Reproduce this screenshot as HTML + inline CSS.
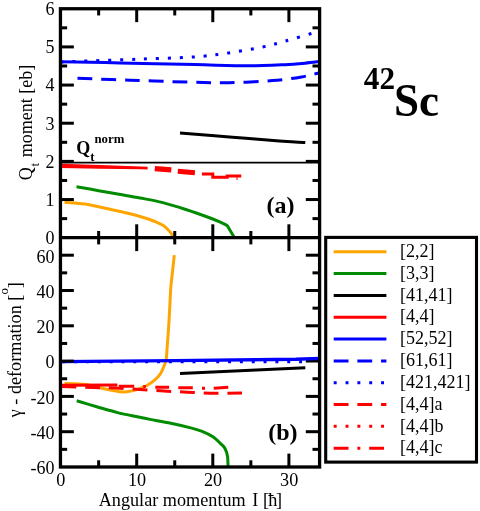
<!DOCTYPE html>
<html><head><meta charset="utf-8"><title>42Sc</title>
<style>
html,body{margin:0;padding:0;background:#fff;}
body{width:480px;height:511px;overflow:hidden;font-family:"Liberation Serif",serif;}
svg{display:block;will-change:transform;opacity:0.999;}
</style></head>
<body>
<svg width="480" height="511" viewBox="0 0 480 511">
<defs>
<clipPath id="ca"><rect x="60.45" y="8.75" width="259.15" height="228.95"/></clipPath>
<clipPath id="cb"><rect x="60.45" y="237.70" width="259.15" height="229.30"/></clipPath>
</defs>
<rect x="0" y="0" width="480" height="511" fill="#fff"/>
<g clip-path="url(#ca)">
<path d="M64.50,202.40 C66.25,202.50 71.58,202.73 75.00,203.00 C78.42,203.27 81.25,203.42 85.00,204.00 C88.75,204.58 93.33,205.62 97.50,206.50 C101.67,207.38 105.83,208.33 110.00,209.25 C114.17,210.17 118.33,211.04 122.50,212.00 C126.67,212.96 130.83,213.88 135.00,215.00 C139.17,216.12 144.17,217.67 147.50,218.75 C150.83,219.83 152.37,220.38 155.00,221.50 C157.63,222.62 161.08,224.08 163.30,225.50 C165.52,226.92 166.92,228.55 168.30,230.00 C169.68,231.45 170.65,232.78 171.60,234.20 C172.55,235.62 173.60,237.78 174.00,238.50" fill="none" stroke="#ffa500" stroke-width="3.0" stroke-linecap="butt" stroke-linejoin="round"/>
<path d="M76.50,186.70 C80.42,187.40 93.17,189.67 100.00,190.90 C106.83,192.13 110.83,192.92 117.50,194.10 C124.17,195.28 132.43,196.58 140.00,198.00 C147.57,199.42 155.25,200.68 162.90,202.60 C170.55,204.52 178.25,207.02 185.90,209.50 C193.55,211.98 203.07,215.40 208.80,217.50 C214.53,219.60 217.23,220.75 220.30,222.10 C223.37,223.45 226.05,225.02 227.20,225.60 L235.2,239" fill="none" stroke="#008b00" stroke-width="3.0" stroke-linecap="butt" stroke-linejoin="round"/>
<path d="M180.00,133.10 C188.75,133.78 215.93,135.90 232.50,137.20 C249.07,138.50 268.98,140.08 279.40,140.90 C289.82,141.72 290.68,141.83 295.00,142.10 C299.32,142.37 303.58,142.43 305.30,142.50" fill="none" stroke="#000" stroke-width="3.0" stroke-linecap="butt" stroke-linejoin="round"/>
<line x1="60.5" y1="162.6" x2="319.6" y2="162.6" stroke="#000" stroke-width="1.8"/>
<path d="M60.60,61.70 C70.50,61.90 97.60,62.42 120.00,62.90 C142.40,63.38 173.72,64.12 195.00,64.60 C216.28,65.08 232.70,65.78 247.70,65.80 C262.70,65.82 275.45,65.13 285.00,64.70 C294.55,64.27 299.17,63.73 305.00,63.20 C310.83,62.67 317.50,61.78 320.00,61.50" fill="none" stroke="#0000ff" stroke-width="3.0" stroke-linecap="butt" stroke-linejoin="round"/>
<path d="M77.50,78.30 C86.25,78.62 111.63,79.57 130.00,80.20 C148.37,80.83 171.25,81.68 187.70,82.10 C204.15,82.52 214.57,82.95 228.70,82.70 C242.83,82.45 260.35,81.57 272.50,80.60 C284.65,79.63 293.68,78.22 301.60,76.90 C309.52,75.58 316.93,73.40 320.00,72.70" fill="none" stroke="#0000ff" stroke-width="3.0" stroke-linecap="butt" stroke-linejoin="round" stroke-dasharray="14.85 8.9" stroke-dashoffset="0"/>
<path d="M60.60,62.00 C65.00,61.83 73.77,61.48 87.00,61.00 C100.23,60.52 122.30,59.77 140.00,59.10 C157.70,58.43 178.42,58.03 193.20,57.00 C207.98,55.97 216.95,54.60 228.70,52.90 C240.45,51.20 254.22,48.78 263.70,46.80 C273.18,44.82 277.82,43.17 285.60,41.00 C293.38,38.83 304.67,35.52 310.40,33.80 C316.13,32.08 318.40,31.22 320.00,30.70" fill="none" stroke="#0000ff" stroke-width="3.0" stroke-linecap="butt" stroke-linejoin="round" stroke-dasharray="3 8.925" stroke-dashoffset="0"/>
<polygon points="60.6,163.7 100,165.0 141,166.5 147.6,166.8 147.6,169.6 141,169.3 100,168.7 60.6,167.9" fill="#ff0000"/>
<path d="M154.80,168.60 L171.30,169.90" fill="none" stroke="#ff0000" stroke-width="5.4" stroke-linecap="butt" stroke-linejoin="round"/>
<path d="M177.80,171.30 L194.90,172.70" fill="none" stroke="#ff0000" stroke-width="5.0" stroke-linecap="butt" stroke-linejoin="round"/>
<path d="M201.90,173.90 L212.80,173.90 L212.80,177.20 L227.20,177.20 L227.20,176.10 L241.30,176.10" fill="none" stroke="#ff0000" stroke-width="3.0" stroke-linecap="butt" stroke-linejoin="miter"/>
<path d="M237.00,176.00 L237.00,180.00" fill="none" stroke="#ff0000" stroke-width="1.0" stroke-linecap="butt" stroke-linejoin="round"/>
</g>
<g clip-path="url(#cb)">
<path d="M64.50,383.40 C66.25,383.47 71.42,383.62 75.00,383.80 C78.58,383.98 81.72,383.80 86.00,384.50 C90.28,385.20 96.37,387.03 100.70,388.00 C105.03,388.97 109.03,389.73 112.00,390.30 C114.97,390.87 116.63,391.10 118.50,391.40 C120.37,391.70 121.62,392.08 123.20,392.10 C124.78,392.12 126.17,391.78 128.00,391.50 C129.83,391.22 132.03,390.98 134.20,390.40 C136.37,389.82 138.82,388.85 141.00,388.00 C143.18,387.15 145.03,386.60 147.30,385.30 C149.57,384.00 152.42,382.12 154.60,380.20 C156.78,378.28 158.97,375.83 160.40,373.80 C161.83,371.77 162.27,370.25 163.20,368.00 C164.13,365.75 165.38,363.13 166.00,360.30 C166.62,357.47 166.52,355.68 166.90,351.00 C167.28,346.32 167.83,339.25 168.30,332.20 C168.77,325.15 169.28,316.18 169.70,308.70 C170.12,301.22 170.37,293.17 170.80,287.30 C171.23,281.43 171.72,278.85 172.30,273.50 C172.88,268.15 173.97,258.25 174.30,255.20" fill="none" stroke="#ffa500" stroke-width="3.0" stroke-linecap="butt" stroke-linejoin="round"/>
<path d="M76.70,400.80 C80.03,401.78 89.90,404.73 96.70,406.70 C103.50,408.67 110.57,410.88 117.50,412.60 C124.43,414.32 132.88,415.87 138.30,417.00 C143.72,418.13 144.58,418.35 150.00,419.40 C155.42,420.45 163.85,421.85 170.80,423.30 C177.75,424.75 186.48,426.77 191.70,428.10 C196.92,429.43 198.63,429.90 202.10,431.30 C205.57,432.70 209.38,434.42 212.50,436.50 C215.62,438.58 218.72,441.80 220.80,443.80 C222.88,445.80 223.88,446.42 225.00,448.50 C226.12,450.58 226.98,453.05 227.50,456.30 C228.02,459.55 228.00,466.05 228.10,468.00" fill="none" stroke="#008b00" stroke-width="3.0" stroke-linecap="butt" stroke-linejoin="round"/>
<path d="M180.00,373.40 L305.30,367.80" fill="none" stroke="#000" stroke-width="3.0" stroke-linecap="butt" stroke-linejoin="round"/>
<path d="M62.30,361.80 L306.00,361.70" fill="none" stroke="#0000ff" stroke-width="3.0" stroke-linecap="butt" stroke-linejoin="round" stroke-dasharray="2.96 8.88" stroke-dashoffset="0"/>
<line x1="305.80" y1="361.10" x2="319.60" y2="361.10" stroke="#000" stroke-width="3"/>
<path d="M60.60,361.60 L175.00,360.65 L296.00,359.20 L320.00,358.35" fill="none" stroke="#0000ff" stroke-width="3.4" stroke-linecap="butt" stroke-linejoin="round"/>
<path d="M61.50,386.40 C66.75,386.58 83.92,387.23 93.00,387.50 C102.08,387.77 108.17,387.67 116.00,388.00 C123.83,388.33 132.00,389.00 140.00,389.50 C148.00,390.00 156.17,390.55 164.00,391.00 C171.83,391.45 179.33,391.83 187.00,392.20 C194.67,392.57 200.83,393.07 210.00,393.20 C219.17,393.33 236.67,393.03 242.00,393.00" fill="none" stroke="#ff0000" stroke-width="3.0" stroke-linecap="butt" stroke-linejoin="round" stroke-dasharray="14.8 8.93" stroke-dashoffset="0"/>
<path d="M60.60,385.30 L117.40,384.90" fill="none" stroke="#ff0000" stroke-width="3.0" stroke-linecap="butt" stroke-linejoin="round"/>
<path d="M118.80,386.20 L134.20,386.20" fill="none" stroke="#ff0000" stroke-width="3.0" stroke-linecap="butt" stroke-linejoin="round"/>
<path d="M143.20,386.60 L145.80,386.60" fill="none" stroke="#ff0000" stroke-width="3.0" stroke-linecap="butt" stroke-linejoin="round"/>
<path d="M155.30,387.20 L169.10,387.20" fill="none" stroke="#ff0000" stroke-width="3.0" stroke-linecap="butt" stroke-linejoin="round"/>
<path d="M178.30,387.80 L192.80,387.80" fill="none" stroke="#ff0000" stroke-width="3.0" stroke-linecap="butt" stroke-linejoin="round"/>
<path d="M202.00,388.20 L205.00,388.20" fill="none" stroke="#ff0000" stroke-width="3.0" stroke-linecap="butt" stroke-linejoin="round"/>
<path d="M213.70,388.30 L228.30,387.20" fill="none" stroke="#ff0000" stroke-width="3.0" stroke-linecap="butt" stroke-linejoin="round"/>
</g>
<line x1="98.65" y1="8.75" x2="98.65" y2="15.45" stroke="#000" stroke-width="3.0"/>
<line x1="98.65" y1="231.00" x2="98.65" y2="244.40" stroke="#000" stroke-width="3.0"/>
<line x1="98.65" y1="460.30" x2="98.65" y2="467.00" stroke="#000" stroke-width="3.0"/>
<line x1="136.70" y1="8.75" x2="136.70" y2="22.15" stroke="#000" stroke-width="3.0"/>
<line x1="136.70" y1="224.30" x2="136.70" y2="251.10" stroke="#000" stroke-width="3.0"/>
<line x1="136.70" y1="453.60" x2="136.70" y2="467.00" stroke="#000" stroke-width="3.0"/>
<line x1="174.75" y1="8.75" x2="174.75" y2="15.45" stroke="#000" stroke-width="3.0"/>
<line x1="174.75" y1="231.00" x2="174.75" y2="244.40" stroke="#000" stroke-width="3.0"/>
<line x1="174.75" y1="460.30" x2="174.75" y2="467.00" stroke="#000" stroke-width="3.0"/>
<line x1="212.80" y1="8.75" x2="212.80" y2="22.15" stroke="#000" stroke-width="3.0"/>
<line x1="212.80" y1="224.30" x2="212.80" y2="251.10" stroke="#000" stroke-width="3.0"/>
<line x1="212.80" y1="453.60" x2="212.80" y2="467.00" stroke="#000" stroke-width="3.0"/>
<line x1="250.85" y1="8.75" x2="250.85" y2="15.45" stroke="#000" stroke-width="3.0"/>
<line x1="250.85" y1="231.00" x2="250.85" y2="244.40" stroke="#000" stroke-width="3.0"/>
<line x1="250.85" y1="460.30" x2="250.85" y2="467.00" stroke="#000" stroke-width="3.0"/>
<line x1="288.90" y1="8.75" x2="288.90" y2="22.15" stroke="#000" stroke-width="3.0"/>
<line x1="288.90" y1="224.30" x2="288.90" y2="251.10" stroke="#000" stroke-width="3.0"/>
<line x1="288.90" y1="453.60" x2="288.90" y2="467.00" stroke="#000" stroke-width="3.0"/>
<line x1="60.45" y1="218.62" x2="67.15" y2="218.62" stroke="#000" stroke-width="3.0"/>
<line x1="312.50" y1="218.62" x2="319.60" y2="218.62" stroke="#000" stroke-width="3.0"/>
<line x1="60.45" y1="199.54" x2="73.85" y2="199.54" stroke="#000" stroke-width="3.0"/>
<line x1="305.80" y1="199.54" x2="319.60" y2="199.54" stroke="#000" stroke-width="3.0"/>
<line x1="60.45" y1="180.46" x2="67.15" y2="180.46" stroke="#000" stroke-width="3.0"/>
<line x1="312.50" y1="180.46" x2="319.60" y2="180.46" stroke="#000" stroke-width="3.0"/>
<line x1="60.45" y1="161.38" x2="73.85" y2="161.38" stroke="#000" stroke-width="3.0"/>
<line x1="305.80" y1="161.38" x2="319.60" y2="161.38" stroke="#000" stroke-width="3.0"/>
<line x1="60.45" y1="142.30" x2="67.15" y2="142.30" stroke="#000" stroke-width="3.0"/>
<line x1="312.50" y1="142.30" x2="319.60" y2="142.30" stroke="#000" stroke-width="3.0"/>
<line x1="60.45" y1="123.22" x2="73.85" y2="123.22" stroke="#000" stroke-width="3.0"/>
<line x1="305.80" y1="123.22" x2="319.60" y2="123.22" stroke="#000" stroke-width="3.0"/>
<line x1="60.45" y1="104.15" x2="67.15" y2="104.15" stroke="#000" stroke-width="3.0"/>
<line x1="312.50" y1="104.15" x2="319.60" y2="104.15" stroke="#000" stroke-width="3.0"/>
<line x1="60.45" y1="85.07" x2="73.85" y2="85.07" stroke="#000" stroke-width="3.0"/>
<line x1="305.80" y1="85.07" x2="319.60" y2="85.07" stroke="#000" stroke-width="3.0"/>
<line x1="60.45" y1="65.99" x2="67.15" y2="65.99" stroke="#000" stroke-width="3.0"/>
<line x1="312.50" y1="65.99" x2="319.60" y2="65.99" stroke="#000" stroke-width="3.0"/>
<line x1="60.45" y1="46.91" x2="73.85" y2="46.91" stroke="#000" stroke-width="3.0"/>
<line x1="305.80" y1="46.91" x2="319.60" y2="46.91" stroke="#000" stroke-width="3.0"/>
<line x1="60.45" y1="27.83" x2="67.15" y2="27.83" stroke="#000" stroke-width="3.0"/>
<line x1="312.50" y1="27.83" x2="319.60" y2="27.83" stroke="#000" stroke-width="3.0"/>
<line x1="60.45" y1="449.35" x2="67.15" y2="449.35" stroke="#000" stroke-width="3.0"/>
<line x1="312.50" y1="449.35" x2="319.60" y2="449.35" stroke="#000" stroke-width="3.0"/>
<line x1="60.45" y1="431.70" x2="73.85" y2="431.70" stroke="#000" stroke-width="3.0"/>
<line x1="305.80" y1="431.70" x2="319.60" y2="431.70" stroke="#000" stroke-width="3.0"/>
<line x1="60.45" y1="414.05" x2="67.15" y2="414.05" stroke="#000" stroke-width="3.0"/>
<line x1="312.50" y1="414.05" x2="319.60" y2="414.05" stroke="#000" stroke-width="3.0"/>
<line x1="60.45" y1="396.40" x2="73.85" y2="396.40" stroke="#000" stroke-width="3.0"/>
<line x1="305.80" y1="396.40" x2="319.60" y2="396.40" stroke="#000" stroke-width="3.0"/>
<line x1="60.45" y1="378.75" x2="67.15" y2="378.75" stroke="#000" stroke-width="3.0"/>
<line x1="312.50" y1="378.75" x2="319.60" y2="378.75" stroke="#000" stroke-width="3.0"/>
<line x1="60.45" y1="361.10" x2="73.85" y2="361.10" stroke="#000" stroke-width="3.0"/>
<line x1="60.45" y1="343.45" x2="67.15" y2="343.45" stroke="#000" stroke-width="3.0"/>
<line x1="312.50" y1="343.45" x2="319.60" y2="343.45" stroke="#000" stroke-width="3.0"/>
<line x1="60.45" y1="325.80" x2="73.85" y2="325.80" stroke="#000" stroke-width="3.0"/>
<line x1="305.80" y1="325.80" x2="319.60" y2="325.80" stroke="#000" stroke-width="3.0"/>
<line x1="60.45" y1="308.15" x2="67.15" y2="308.15" stroke="#000" stroke-width="3.0"/>
<line x1="312.50" y1="308.15" x2="319.60" y2="308.15" stroke="#000" stroke-width="3.0"/>
<line x1="60.45" y1="290.50" x2="73.85" y2="290.50" stroke="#000" stroke-width="3.0"/>
<line x1="305.80" y1="290.50" x2="319.60" y2="290.50" stroke="#000" stroke-width="3.0"/>
<line x1="60.45" y1="272.85" x2="67.15" y2="272.85" stroke="#000" stroke-width="3.0"/>
<line x1="312.50" y1="272.85" x2="319.60" y2="272.85" stroke="#000" stroke-width="3.0"/>
<line x1="60.45" y1="255.20" x2="73.85" y2="255.20" stroke="#000" stroke-width="3.0"/>
<line x1="305.80" y1="255.20" x2="319.60" y2="255.20" stroke="#000" stroke-width="3.0"/>
<rect x="60.45" y="8.75" width="259.15" height="458.25" fill="none" stroke="#000" stroke-width="3.3"/>
<line x1="60.45" y1="237.70" x2="319.60" y2="237.70" stroke="#000" stroke-width="3.2"/>
<text x="54.40" y="244.10" font-size="18" text-anchor="end" font-family="Liberation Serif, serif" >0</text>
<text x="54.40" y="205.94" font-size="18" text-anchor="end" font-family="Liberation Serif, serif" >1</text>
<text x="54.40" y="167.78" font-size="18" text-anchor="end" font-family="Liberation Serif, serif" >2</text>
<text x="54.40" y="129.62" font-size="18" text-anchor="end" font-family="Liberation Serif, serif" >3</text>
<text x="54.40" y="91.47" font-size="18" text-anchor="end" font-family="Liberation Serif, serif" >4</text>
<text x="54.40" y="53.31" font-size="18" text-anchor="end" font-family="Liberation Serif, serif" >5</text>
<text x="54.40" y="15.15" font-size="18" text-anchor="end" font-family="Liberation Serif, serif" >6</text>
<text x="54.40" y="474.30" font-size="18" text-anchor="end" font-family="Liberation Serif, serif" >-60</text>
<text x="54.40" y="439.00" font-size="18" text-anchor="end" font-family="Liberation Serif, serif" >-40</text>
<text x="54.40" y="403.70" font-size="18" text-anchor="end" font-family="Liberation Serif, serif" >-20</text>
<text x="54.40" y="368.40" font-size="18" text-anchor="end" font-family="Liberation Serif, serif" >0</text>
<text x="54.40" y="333.10" font-size="18" text-anchor="end" font-family="Liberation Serif, serif" >20</text>
<text x="54.40" y="297.80" font-size="18" text-anchor="end" font-family="Liberation Serif, serif" >40</text>
<text x="54.40" y="262.50" font-size="18" text-anchor="end" font-family="Liberation Serif, serif" >60</text>
<text x="60.90" y="485.50" font-size="18.2" text-anchor="middle" font-family="Liberation Serif, serif" >0</text>
<text x="137.00" y="485.50" font-size="18.2" text-anchor="middle" font-family="Liberation Serif, serif" >10</text>
<text x="213.10" y="485.50" font-size="18.2" text-anchor="middle" font-family="Liberation Serif, serif" >20</text>
<text x="289.20" y="485.50" font-size="18.2" text-anchor="middle" font-family="Liberation Serif, serif" >30</text>
<text x="190.40" y="505.50" font-size="18.2" text-anchor="middle" font-family="Liberation Serif, serif" >Angular momentum <tspan dx="1.9">I</tspan> <tspan dx="0.2">[</tspan><tspan dx="-0.85">ħ</tspan><tspan dx="-1.25">]</tspan></text>
<text transform="translate(31.9,180.3) rotate(-90)" font-size="18" font-family="Liberation Serif, serif">Q<tspan font-size="12.8" dy="6.8" dx="0.8">t</tspan><tspan dy="-6.8" dx="1.2"> moment [eb]</tspan></text>
<text transform="translate(20.7,417.3) rotate(-90)" font-size="18.2" font-family="Liberation Serif, serif">γ - deformation [<tspan font-size="12.8" dy="-12.6">o</tspan><tspan dy="12.6">]</tspan></text>
<text x="76.2" y="154.2" font-size="18" font-weight="bold" font-family="Liberation Serif, serif">Q<tspan font-size="12.8" dy="6.4">t</tspan><tspan font-size="12.8" dy="-18.1">norm</tspan></text>
<text x="266.50" y="213.40" font-size="24" text-anchor="start" font-family="Liberation Serif, serif" font-weight="bold" >(a)</text>
<text x="268.20" y="440.30" font-size="24" text-anchor="start" font-family="Liberation Serif, serif" font-weight="bold" >(b)</text>
<text x="363.8" y="89.2" font-size="31.2" font-weight="bold" font-family="Liberation Serif, serif">42</text>
<text transform="translate(394.0,116.2) scale(0.97,1)" font-size="46.4" font-weight="bold" font-family="Liberation Serif, serif">Sc</text>
<rect x="325.7" y="237.4" width="150.8" height="224.7" fill="#fff" stroke="#000" stroke-width="3.1"/>
<line x1="333.7" y1="251.80" x2="386.4" y2="251.80" stroke="#ffa500" stroke-width="3"/>
<text x="400" y="256.95" font-size="18" font-family="Liberation Serif, serif">[2,2]</text>
<line x1="333.7" y1="273.62" x2="386.4" y2="273.62" stroke="#008b00" stroke-width="3"/>
<text x="400" y="278.77" font-size="18" font-family="Liberation Serif, serif">[3,3]</text>
<line x1="333.7" y1="295.44" x2="386.4" y2="295.44" stroke="#000" stroke-width="3"/>
<text x="400" y="300.59" font-size="18" font-family="Liberation Serif, serif">[41,41]</text>
<line x1="333.7" y1="317.26" x2="386.4" y2="317.26" stroke="#ff0000" stroke-width="3"/>
<text x="400" y="322.41" font-size="18" font-family="Liberation Serif, serif">[4,4]</text>
<line x1="333.7" y1="339.08" x2="386.4" y2="339.08" stroke="#0000ff" stroke-width="3"/>
<text x="400" y="344.23" font-size="18" font-family="Liberation Serif, serif">[52,52]</text>
<line x1="333.7" y1="360.90" x2="386.4" y2="360.90" stroke="#0000ff" stroke-width="3" stroke-dasharray="14.8 8.88"/>
<text x="400" y="366.05" font-size="18" font-family="Liberation Serif, serif">[61,61]</text>
<line x1="333.7" y1="382.72" x2="386.4" y2="382.72" stroke="#0000ff" stroke-width="3" stroke-dasharray="2.96 8.88"/>
<text x="400" y="387.87" font-size="18" font-family="Liberation Serif, serif">[421,421]</text>
<line x1="333.7" y1="404.54" x2="386.4" y2="404.54" stroke="#ff0000" stroke-width="3" stroke-dasharray="14.8 8.88"/>
<text x="400" y="409.69" font-size="18" font-family="Liberation Serif, serif">[4,4]a</text>
<line x1="333.7" y1="426.36" x2="386.4" y2="426.36" stroke="#ff0000" stroke-width="3" stroke-dasharray="2.96 8.88"/>
<text x="400" y="431.51" font-size="18" font-family="Liberation Serif, serif">[4,4]b</text>
<line x1="333.7" y1="448.18" x2="386.4" y2="448.18" stroke="#ff0000" stroke-width="3" stroke-dasharray="14.8 8.88 2.96 8.88"/>
<text x="400" y="453.33" font-size="18" font-family="Liberation Serif, serif">[4,4]c</text>
</svg>
</body></html>
